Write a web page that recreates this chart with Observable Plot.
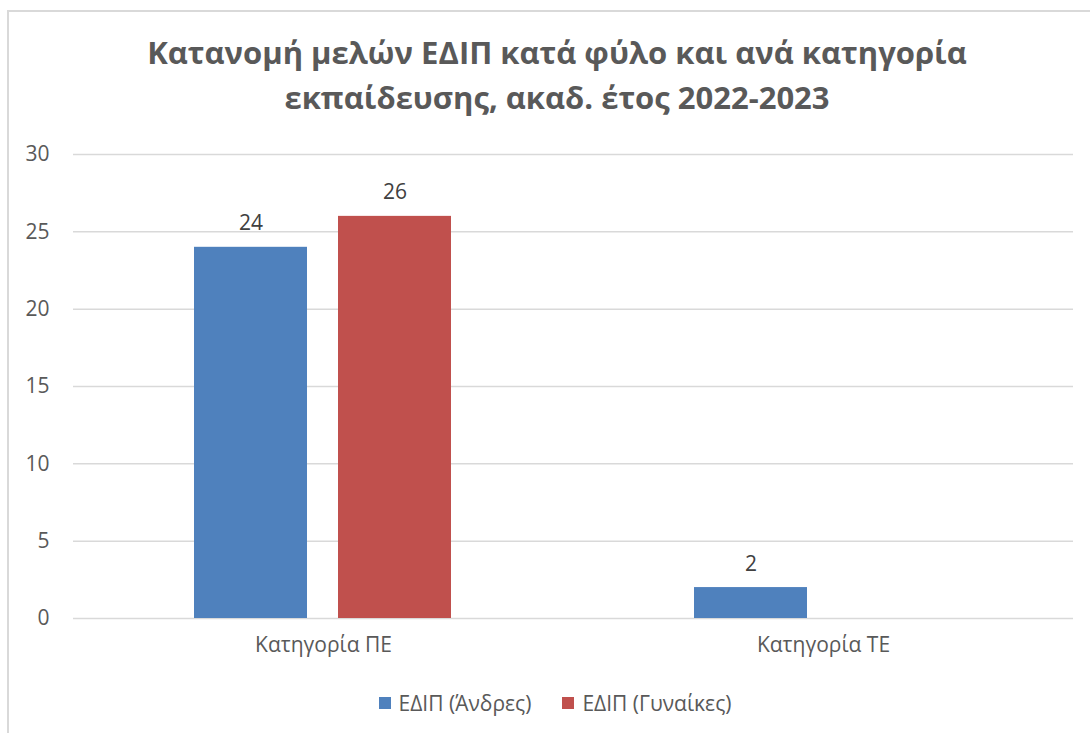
<!DOCTYPE html>
<html>
<head>
<meta charset="utf-8">
<script src="https://cdn.jsdelivr.net/npm/d3@7"></script>
<script src="https://cdn.jsdelivr.net/npm/@observablehq/plot@0.6"></script>
<style>
  html, body { margin: 0; padding: 0; background: #fff; }
  body { width: 1090px; height: 733px; position: relative; overflow: hidden; font-family: "Open Sans", sans-serif; }
  #frame { position: absolute; left: 7px; top: 10px; width: 1110px; height: 760px; border: 2px solid #d9d9d9; box-sizing: border-box; }
  #title { position: absolute; left: 7px; width: 1100px; top: 30px; text-align: center; font-weight: bold; font-size: 31px; line-height: 45px; color: #595959; }
  #chart { position: absolute; left: 0; top: 0; }
  #legend { position: absolute; left: 0; width: 1110px; top: 689px; display: flex; justify-content: center; gap: 31px; font-size: 21px; color: #595959; }
  .item { display: flex; align-items: center; gap: 8px; }
  .sw { width: 12px; height: 12px; display: inline-block; }
</style>
</head>
<body>
<div id="frame"></div>
<div id="title">Κατανομή μελών ΕΔΙΠ κατά φύλο και ανά κατηγορία<br>εκπαίδευσης, ακαδ. έτος 2022-2023</div>
<div id="chart"></div>
<div id="legend"></div>
<script>
const categories = ["Κατηγορία ΠΕ", "Κατηγορία ΤΕ"];
const series = ["ΕΔΙΠ (Άνδρες)", "ΕΔΙΠ (Γυναίκες)"];
const men = [24, 2];
const women = [26, null];
const yTicks = [0, 5, 10, 15, 20, 25, 30];
const colors = ["#4F81BD", "#C0504D"];

const data = [];
categories.forEach((c, i) => {
  if (men[i] != null) data.push({cat: c, series: series[0], value: men[i]});
  if (women[i] != null) data.push({cat: c, series: series[1], value: women[i]});
});

const chart = Plot.plot({
  width: 1090,
  height: 680,
  marginLeft: 72,
  marginRight: 17,
  marginTop: 154,
  marginBottom: 62,
  style: {fontFamily: "Open Sans, sans-serif", background: "transparent"},
  fx: {domain: categories, padding: 0, label: null},
  x: {domain: series, paddingInner: 0.215, paddingOuter: 0.843, axis: null},
  y: {domain: [0, 30], label: null},
  color: {domain: series, range: colors},
  marks: [
    Plot.gridY(yTicks, {stroke: "#d9d9d9", strokeOpacity: 1, strokeWidth: 1.5}),
    Plot.axisY(yTicks, {tickSize: 0, tickPadding: 24, fontSize: 21, color: "#595959", label: null}),
    Plot.axisFx({anchor: "bottom", tickSize: 0, tickPadding: 19, fontSize: 21, color: "#595959", label: null}),
    Plot.barY(data, {fx: "cat", x: "series", y: "value", fill: "series", inset: 0}),
    Plot.text(data, {fx: "cat", x: "series", y: "value", text: d => String(d.value), dy: -17, lineAnchor: "bottom", fontSize: 21, fill: "#404040"})
  ]
});
document.getElementById("chart").appendChild(chart);

const legend = document.getElementById("legend");
series.forEach((s, i) => {
  const item = document.createElement("div");
  item.className = "item";
  const sw = document.createElement("span");
  sw.className = "sw";
  sw.style.background = colors[i];
  const t = document.createElement("span");
  t.textContent = s;
  item.appendChild(sw);
  item.appendChild(t);
  legend.appendChild(item);
});
</script>
</body>
</html>
